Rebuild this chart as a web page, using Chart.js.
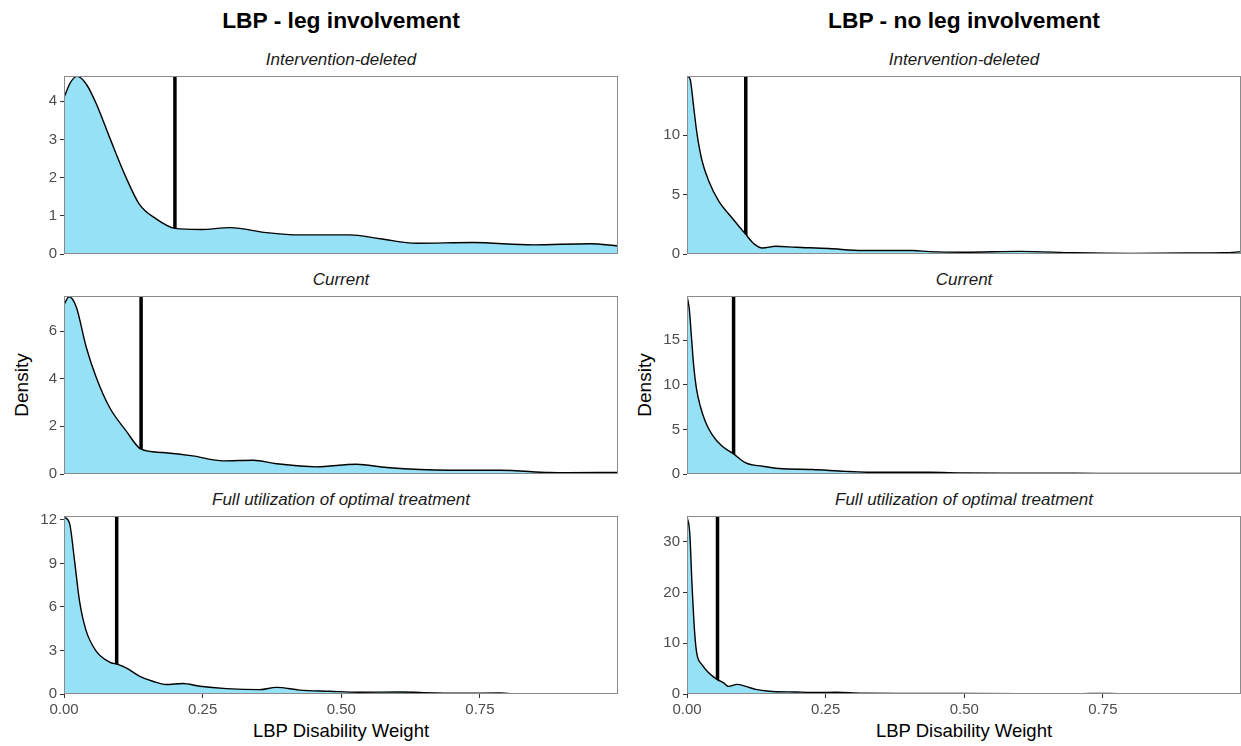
<!DOCTYPE html>
<html>
<head>
<meta charset="utf-8">
<script src="https://cdn.jsdelivr.net/npm/chart.js@4.4.1/dist/chart.umd.min.js"></script>
<style>
  html, body { margin: 0; padding: 0; background: #fff; overflow: hidden; }
  #page { position: relative; width: 1241px; height: 746px; overflow: hidden;
          font-family: "Liberation Sans", Arial, sans-serif; }
  #page canvas { position: absolute; }
  .title { position: absolute; top: 6px; width: 554px; text-align: center;
           font-weight: bold; font-size: 22.8px; line-height: 28px; color: #000; }
  .strip { position: absolute; width: 554px; text-align: center; font-style: italic;
           font-size: 17px; line-height: 20px; color: #1a1a1a; }
  .xlab { position: absolute; top: 720px; width: 554px; text-align: center;
          font-size: 18.5px; line-height: 22px; color: #000; }
  .ylab { position: absolute; width: 100px; height: 22px; line-height: 22px; text-align: center;
          font-size: 19px; color: #000; transform: rotate(-90deg); }
</style>
</head>
<body>
<div id="page">
  <div class="title" style="left:64px">LBP - leg involvement</div>
  <div class="title" style="left:687px">LBP - no leg involvement</div>

  <div class="strip" style="left:64px;top:50px">Intervention-deleted</div>
  <div class="strip" style="left:64px;top:270px">Current</div>
  <div class="strip" style="left:64px;top:490px">Full utilization of optimal treatment</div>
  <div class="strip" style="left:687px;top:50px">Intervention-deleted</div>
  <div class="strip" style="left:687px;top:270px">Current</div>
  <div class="strip" style="left:687px;top:490px">Full utilization of optimal treatment</div>

  <div class="ylab" style="left:-28px;top:374px">Density</div>
  <div class="ylab" style="left:595px;top:374px">Density</div>

  <div class="xlab" style="left:64px">LBP Disability Weight</div>
  <div class="xlab" style="left:687px">LBP Disability Weight</div>
</div>

<script>
// x axis (shared by all panels)
const xTicks = [0, 0.25, 0.5, 0.75];
const xMax = 0.999;

// LBP - leg involvement, intervention-deleted
const legDeletedX = [0, 0.012, 0.024, 0.04, 0.058, 0.082, 0.112, 0.136, 0.166, 0.2, 0.245, 0.3, 0.365, 0.425, 0.515, 0.57, 0.636, 0.737, 0.846, 0.949, 0.999];
const legDeletedY = [4.1, 4.5, 4.65, 4.45, 3.94, 3.06, 2.0, 1.3, 0.92, 0.67, 0.64, 0.69, 0.56, 0.5, 0.5, 0.4, 0.28, 0.3, 0.24, 0.27, 0.21];
const legDeletedTicks = [0, 1, 2, 3, 4];

// LBP - leg involvement, current
const legCurrentX = [0, 0.009, 0.022, 0.04, 0.058, 0.082, 0.112, 0.139, 0.178, 0.232, 0.287, 0.341, 0.383, 0.455, 0.527, 0.582, 0.696, 0.786, 0.876, 0.906, 0.999];
const legCurrentY = [7.1, 7.44, 7.02, 5.33, 4.06, 2.8, 1.81, 1.04, 0.9, 0.76, 0.55, 0.58, 0.43, 0.3, 0.41, 0.27, 0.16, 0.16, 0.06, 0.05, 0.07];
const legCurrentTicks = [0, 2, 4, 6];

// LBP - leg involvement, full utilization
const legFullX = [0, 0.01, 0.019, 0.028, 0.04, 0.058, 0.082, 0.097, 0.112, 0.136, 0.16, 0.184, 0.214, 0.245, 0.293, 0.353, 0.383, 0.425, 0.479, 0.53, 0.606, 0.665, 0.72, 0.786, 0.816];
const legFullY = [12.2, 11.76, 9.2, 6.4, 4.35, 2.96, 2.2, 2.04, 1.8, 1.23, 0.88, 0.65, 0.72, 0.53, 0.37, 0.3, 0.46, 0.27, 0.19, 0.12, 0.14, 0.08, 0.05, 0.07, 0];
const legFullTicks = [0, 3, 6, 9, 12];

// LBP - no leg involvement, intervention-deleted
const noLegDeletedX = [0, 0.002, 0.006, 0.012, 0.018, 0.027, 0.039, 0.057, 0.081, 0.106, 0.121, 0.136, 0.16, 0.196, 0.256, 0.316, 0.407, 0.437, 0.5, 0.6, 0.7, 0.8, 0.9, 0.97, 0.999];
const noLegDeletedY = [14.9, 14.95, 14.67, 12.4, 10.14, 7.88, 6.18, 4.48, 3.06, 1.65, 0.85, 0.51, 0.65, 0.57, 0.46, 0.29, 0.29, 0.2, 0.15, 0.22, 0.1, 0.05, 0.08, 0.1, 0.2];
const noLegDeletedTicks = [0, 5, 10];

// LBP - no leg involvement, current
const noLegCurrentX = [0, 0.004, 0.008, 0.012, 0.017, 0.024, 0.033, 0.045, 0.063, 0.084, 0.106, 0.136, 0.166, 0.226, 0.286, 0.347, 0.437, 0.5, 0.6, 0.7, 0.8, 0.9, 0.999];
const noLegCurrentY = [19.95, 18.6, 15.4, 12.2, 9.6, 7.6, 5.9, 4.45, 3.13, 2.26, 1.24, 0.87, 0.61, 0.5, 0.3, 0.19, 0.19, 0.12, 0.1, 0.08, 0.05, 0.05, 0.05];
const noLegCurrentTicks = [0, 5, 10, 15];

// LBP - no leg involvement, full utilization
const noLegFullX = [0, 0.005, 0.009, 0.014, 0.018, 0.027, 0.039, 0.054, 0.066, 0.075, 0.09, 0.106, 0.124, 0.148, 0.196, 0.24, 0.268, 0.316, 0.4, 0.5, 0.6, 0.7, 0.76, 0.787];
const noLegFullY = [35.0, 31.7, 21.7, 11.8, 7.8, 5.8, 4.2, 2.9, 2.2, 1.5, 1.9, 1.5, 0.9, 0.55, 0.4, 0.3, 0.35, 0.15, 0.12, 0.1, 0.08, 0.05, 0.12, 0];
const noLegFullTicks = [0, 10, 20, 30];

// means (vertical lines) and panel y maxima
const means = [0.2, 0.139, 0.095, 0.106, 0.084, 0.055];
const yMaxes = [4.66, 7.47, 12.27, 15.0, 19.97, 35.1];

const fillColor = '#97e1f6';
const fontFamily = '"Liberation Sans", Arial, sans-serif';

const panels = [
  { x: legDeletedX, y: legDeletedY, ticks: legDeletedTicks, left: 64, top: 76, bottom: false },
  { x: legCurrentX, y: legCurrentY, ticks: legCurrentTicks, left: 64, top: 296, bottom: false },
  { x: legFullX, y: legFullY, ticks: legFullTicks, left: 64, top: 516, bottom: true },
  { x: noLegDeletedX, y: noLegDeletedY, ticks: noLegDeletedTicks, left: 687, top: 76, bottom: false },
  { x: noLegCurrentX, y: noLegCurrentY, ticks: noLegCurrentTicks, left: 687, top: 296, bottom: false },
  { x: noLegFullX, y: noLegFullY, ticks: noLegFullTicks, left: 687, top: 516, bottom: true }
];

const PANEL_W = 554, PANEL_H = 178;
const Y_AXIS_W = 50, PAD_TOP = 8, PAD_RIGHT = 6;

// grey border round each panel
const panelFrame = {
  id: 'panelFrame',
  afterDatasetsDraw(chart) {
    const a = chart.chartArea, ctx = chart.ctx;
    ctx.save();
    ctx.strokeStyle = '#8a8a8a';
    ctx.lineWidth = 1;
    ctx.strokeRect(a.left + 0.5, a.top + 0.5, a.right - a.left - 1, a.bottom - a.top - 1);
    ctx.restore();
  }
};

const page = document.getElementById('page');

panels.forEach((p, i) => {
  const xAxisH = p.bottom ? 42 : 14;
  const canvas = document.createElement('canvas');
  let w = PANEL_W + Y_AXIS_W + PAD_RIGHT;
  let h = PANEL_H + PAD_TOP + xAxisH;
  canvas.width = w;
  canvas.height = h;
  page.appendChild(canvas);

  const yMax = yMaxes[i];

  const chart = new Chart(canvas, {
    type: 'line',
    data: {
      datasets: [
        {
          data: p.x.map((v, k) => ({ x: v, y: p.y[k] })),
          borderColor: '#000',
          borderWidth: 1.4,
          backgroundColor: fillColor,
          fill: 'origin',
          cubicInterpolationMode: 'monotone',
          pointRadius: 0
        },
        {
          data: [{ x: means[i], y: 0 }, { x: means[i], y: yMax }],
          borderColor: '#000',
          borderWidth: 3.5,
          fill: false,
          pointRadius: 0
        }
      ]
    },
    options: {
      responsive: false,
      maintainAspectRatio: false,
      animation: false,
      layout: {
        autoPadding: false,
        padding: { top: PAD_TOP, right: PAD_RIGHT, left: 0, bottom: 0 }
      },
      plugins: {
        legend: { display: false },
        tooltip: { enabled: false }
      },
      scales: {
        x: {
          type: 'linear',
          min: 0,
          max: xMax,
          afterFit: (s) => { s.height = xAxisH; },
          afterBuildTicks: (s) => { s.ticks = xTicks.map(v => ({ value: v })); },
          border: { display: false },
          grid: {
            display: p.bottom,
            drawOnChartArea: false,
            drawTicks: true,
            tickLength: 4,
            color: '#333'
          },
          ticks: {
            display: p.bottom,
            color: '#4d4d4d',
            font: { size: 15, family: fontFamily },
            padding: 3,
            maxRotation: 0,
            callback: (v) => Number(v).toFixed(2)
          }
        },
        y: {
          type: 'linear',
          min: 0,
          max: yMax,
          afterFit: (s) => { s.width = Y_AXIS_W; },
          afterBuildTicks: (s) => { s.ticks = p.ticks.map(v => ({ value: v })); },
          border: { display: false },
          grid: {
            drawOnChartArea: false,
            drawTicks: true,
            tickLength: 4,
            color: '#333'
          },
          ticks: {
            color: '#4d4d4d',
            font: { size: 15, family: fontFamily },
            padding: 3,
            callback: (v) => String(v)
          }
        }
      }
    },
    plugins: [panelFrame]
  });

  // make the plot area exactly the panel size, then place it
  for (let k = 0; k < 3; k++) {
    const a = chart.chartArea;
    const dw = Math.round(PANEL_W - (a.right - a.left));
    const dh = Math.round(PANEL_H - (a.bottom - a.top));
    if (!dw && !dh) break;
    w += dw;
    h += dh;
    chart.resize(w, h);
  }
  const b = chart.chartArea;
  canvas.style.left = Math.round(p.left - b.left) + 'px';
  canvas.style.top = Math.round(p.top - b.top) + 'px';
});
</script>
</body>
</html>
